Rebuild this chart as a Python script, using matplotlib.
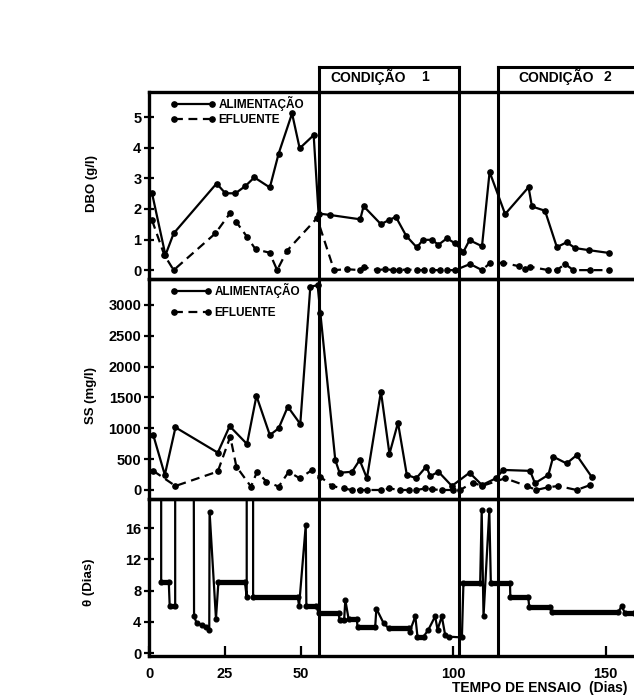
import matplotlib
matplotlib.use("Agg")
import matplotlib.pyplot as plt
from matplotlib.lines import Line2D
from matplotlib.transforms import blended_transform_factory

plt.rcParams['font.family'] = ['Liberation Sans', 'DejaVu Sans']
plt.rcParams['font.weight'] = 'bold'

# ---------------- data ----------------
# DBO (g/l)
days_dbo_a = [1.0, 5.4, 8.1, 22.2, 25.1, 28.4, 31.7, 34.6, 39.7, 42.6, 47.0, 49.5, 54.1, 55.7, 59.6,
              69.4, 70.5, 76.2, 78.7, 81.1, 84.5, 88.0, 90.0, 92.9, 95.1, 97.9, 100.6, 103.3, 105.3,
              109.4, 111.9, 117.0, 124.7, 125.8, 130.1, 134.0, 137.2, 140.0, 144.7, 151.2]
dbo_a = [2.51, 0.49, 1.20, 2.83, 2.51, 2.51, 2.75, 3.03, 2.70, 3.81, 5.12, 3.98, 4.41, 1.85, 1.80,
         1.66, 2.09, 1.50, 1.63, 1.74, 1.12, 0.74, 0.99, 0.99, 0.83, 1.04, 0.87, 0.60, 0.98,
         0.78, 3.21, 1.83, 2.71, 2.08, 1.94, 0.75, 0.91, 0.72, 0.65, 0.56]
days_dbo_e = [1.0, 5.0, 8.1, 21.8, 26.7, 28.7, 32.2, 35.0, 39.6, 42.1, 45.4, 55.2, 60.8, 65.0, 69.4,
              70.5, 74.9, 77.6, 80.3, 82.0, 84.7, 88.0, 90.2, 92.9, 95.7, 97.9, 100.6, 105.5, 109.4,
              111.9, 116.4, 121.4, 123.6, 125.2, 131.2, 134.0, 136.7, 139.4, 144.9, 151.2]
dbo_e = [1.63, 0.50, 0.00, 1.20, 1.87, 1.57, 1.09, 0.68, 0.57, 0.00, 0.64, 1.70, 0.00, 0.03, 0.00,
         0.10, 0.00, 0.03, 0.00, 0.00, 0.02, 0.00, 0.00, 0.00, 0.00, 0.00, 0.00, 0.20, 0.00,
         0.22, 0.24, 0.13, 0.03, 0.11, 0.00, 0.00, 0.20, 0.00, 0.00, 0.00]

# SS (mg/l)
days_ss_a = [1.4, 5.2, 8.7, 22.6, 26.5, 32.2, 35.3, 39.7, 42.6, 45.6, 49.7, 53.0, 55.4, 56.3, 61.2,
             62.6, 66.7, 69.2, 71.6, 76.2, 79.0, 81.8, 84.7, 87.8, 91.1, 92.4, 95.1, 99.5, 105.3,
             109.4, 114.0, 116.4, 125.2, 126.8, 131.2, 132.8, 137.2, 140.5, 145.4]
ss_a = [890, 245, 1015, 605, 1035, 745, 1525, 890, 1000, 1350, 1070, 3295, 3320, 2865, 485,
        280, 295, 485, 190, 1595, 585, 1090, 245, 190, 380, 225, 295, 65, 280,
        80, 190, 325, 310, 110, 245, 540, 430, 565, 215]
days_ss_e = [1.4, 8.7, 22.6, 26.7, 28.7, 33.5, 35.5, 38.6, 42.6, 45.9, 49.5, 53.6, 56.3, 60.1, 63.9,
             66.7, 69.2, 71.6, 76.2, 79.0, 82.5, 85.3, 87.8, 90.8, 92.9, 96.2, 99.8, 102.2, 106.4,
             109.4, 117.0, 124.1, 127.2, 131.2, 134.5, 140.5, 144.9]
ss_e = [310, 65, 300, 865, 380, 55, 295, 135, 55, 295, 190, 325, 215, 65, 25,
        0, 0, 0, 0, 25, 0, 0, 0, 25, 10, 0, 0, 0, 120,
        65, 190, 65, 0, 45, 65, 0, 80]

# theta (Dias); values above the axis top are off-scale excursions
days_th = [4.0, 4.0, 6.5, 6.8, 8.6, 8.6, 14.7, 14.8, 15.7, 17.3, 18.7, 19.8, 19.9, 22.0, 22.8,
           31.5, 32.1, 32.1, 34.2, 34.2, 48.9, 49.3, 51.5, 51.7, 55.0, 55.7, 62.3, 62.6, 64.1,
           64.5, 65.6, 68.3, 68.5, 74.3, 74.7, 77.1, 78.7, 85.3, 85.6, 87.5, 88.2, 90.2, 91.8,
           94.0, 94.8, 96.2, 97.3, 98.4, 102.8, 103.3, 108.8, 109.3, 109.9, 111.8, 112.3, 118.6,
           118.7, 124.6, 124.9, 131.7, 132.3, 154.2, 155.3, 156.4, 159.5]
theta = [24, 9.1, 9.1, 6.0, 6.0, 24, 24, 4.7, 3.8, 3.6, 3.4, 3.0, 18.1, 4.4, 9.1,
         9.1, 7.2, 24, 24, 7.2, 7.2, 6.0, 16.4, 6.0, 6.0, 5.1, 5.1, 4.2, 4.2,
         6.8, 4.3, 4.3, 3.3, 3.3, 5.7, 3.8, 3.2, 3.2, 2.7, 4.7, 2.1, 2.1, 3.0,
         4.7, 3.0, 4.7, 2.3, 2.1, 2.0, 9.0, 9.0, 18.3, 4.7, 18.3, 9.0, 9.0,
         7.2, 7.2, 5.9, 5.9, 5.3, 5.3, 6.0, 5.1, 5.1]

cond_bounds = [55.8, 101.7, 114.5]
cond_word = 'CONDIÇÃO'
cond_numbers = ['1', '2']
x_ticks = [0, 25, 50, 100, 150]
dbo_ticks = [0, 1, 2, 3, 4, 5]
ss_ticks = [0, 500, 1000, 1500, 2000, 2500, 3000]
th_ticks = [0, 4, 8, 12, 16]
legend_labels = ['ALIMENTAÇÃO', 'EFLUENTE']

# ---------------- figure ----------------
W, H = 634, 695
fig = plt.figure(figsize=(W / 100, H / 100), dpi=100)


def fy(py):
    return 1 - py / H


left = 149 / W
xmax = (W - 148.5) / 3.047
ax1 = fig.add_axes([left, fy(279), 1 - left, (279 - 92) / H])
ax2 = fig.add_axes([left, fy(499), 1 - left, (499 - 279) / H])
ax3 = fig.add_axes([left, fy(656), 1 - left, (656 - 499) / H])

ax1.set_ylim(-0.29, 5.82)
ax2.set_ylim(-146, 3420)
ax3.set_ylim(-0.38, 19.74)

for ax in (ax1, ax2, ax3):
    ax.set_xlim(0, xmax)
    ax.spines['right'].set_visible(False)
    for s in ('left', 'top', 'bottom'):
        ax.spines[s].set_linewidth(2.4)
    ax.tick_params(axis='y', direction='inout', length=7, width=1.6, labelsize=10.5, pad=2)
    ax.patch.set_alpha(0)

for ax in (ax1, ax2):
    ax.set_xticks([])

ax3.set_xticks(x_ticks)
ax3.tick_params(axis='x', direction='in', length=7, width=1.6, labelsize=10.5, pad=8)

ax1.set_yticks(dbo_ticks)
ax2.set_yticks(ss_ticks)
ax3.set_yticks(th_ticks)
for ax in (ax1, ax2, ax3):
    for lab in ax.get_yticklabels() + ax.get_xticklabels():
        lab.set_fontweight('bold')

solid_kw = dict(color='black', lw=1.6, marker='o', ms=3.8, linestyle='-')
dash_kw = dict(color='black', lw=1.6, marker='o', ms=3.8, linestyle=(0, (4, 2.5)))

ax1.plot(days_dbo_a, dbo_a, label=legend_labels[0], **solid_kw)
ax1.plot(days_dbo_e, dbo_e, label=legend_labels[1], **dash_kw)
ax2.plot(days_ss_a, ss_a, label=legend_labels[0], **solid_kw)
ax2.plot(days_ss_e, ss_e, label=legend_labels[1], **dash_kw)

ax3.plot(days_th, theta, color='black', lw=1.6, marker='o', ms=3.4)
# plateaus drawn heavier (dense daily dots in the original)
for i in range(len(days_th) - 1):
    if theta[i] == theta[i + 1] and theta[i] < 19:
        ax3.plot([days_th[i], days_th[i + 1]], [theta[i], theta[i + 1]], color='black', lw=3.8,
                 solid_capstyle='round')

ax1.legend(loc='upper left', bbox_to_anchor=(0.035, 1.005), frameon=False, numpoints=2,
           handlelength=3.8, handletextpad=0.25, labelspacing=0.3, borderaxespad=0,
           prop=dict(size=8.5, weight='bold'))
ax2.legend(loc='upper left', bbox_to_anchor=(0.035, 1.005), frameon=False, numpoints=2,
           handlelength=3.5, handletextpad=0.2, labelspacing=0.8, borderaxespad=0,
           prop=dict(size=8.5, weight='bold'))

# axis labels
fig.text(92 / W, fy(183), 'DBO (g/l)', rotation=90, ha='center', va='center', fontsize=9.5, fontweight='bold')
fig.text(91 / W, fy(395), 'SS (mg/l)', rotation=90, ha='center', va='center', fontsize=9.5, fontweight='bold')
fig.text(89 / W, fy(582), 'θ (Dias)', rotation=90, ha='center', va='center', fontsize=9.5, fontweight='bold')
fig.text(452 / W, fy(688), 'TEMPO DE ENSAIO  (Dias)', ha='left', va='center', fontsize=10, fontweight='bold')

# condition boxes spanning all panels
tr = blended_transform_factory(ax3.transData, fig.transFigure)
ytop, ybot = fy(67), fy(656)
for xb in cond_bounds:
    fig.add_artist(Line2D([xb, xb], [ybot, ytop], transform=tr, color='black', lw=2.2))
fig.add_artist(Line2D([cond_bounds[0], cond_bounds[1]], [ytop, ytop], transform=tr, color='black', lw=2.2))
fig.add_artist(Line2D([cond_bounds[2], xmax + 5], [ytop, ytop], transform=tr, color='black', lw=2.2))

word_x = [59.6, 121.3]
num_x = [90.7, 150.5]
for wx, nx, num in zip(word_x, num_x, cond_numbers):
    fig.text(wx, fy(77), cond_word, transform=tr, fontsize=10, fontweight='bold', va='center', ha='left')
    fig.text(nx, fy(77), num, transform=tr, fontsize=10, fontweight='bold', va='center', ha='center')

fig.savefig('out.png', dpi=100)
